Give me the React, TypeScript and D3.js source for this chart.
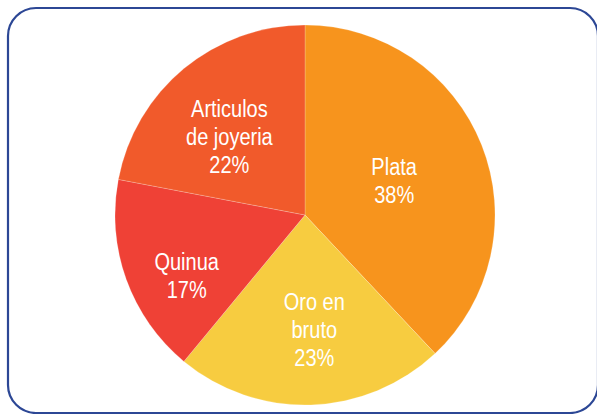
import React from "react";
import * as d3 from "d3";

const labels = [["Plata"], ["Oro en", "bruto"], ["Quinua"], ["Articulos", "de joyeria"]];
const values = [38, 23, 17, 22];
const colors = ["#F7941D", "#F7CC40", "#EF4136", "#F15A2B"];
// small nudges so labels sit where the original put them
const nudges = [
  [-8, 4],
  [6, 10],
  [-20, 25],
  [-9, 2],
];

const W = 597;
const H = 414;

export default function App() {
  const cx = 305;
  const cy = 215;
  const radius = 190;

  const pie = d3
    .pie<number>()
    .sort(null)
    .value((d) => d);
  const arcs = pie(values);

  const arc = d3.arc<d3.PieArcDatum<number>>().innerRadius(0).outerRadius(radius);
  const labelArc = d3
    .arc<d3.PieArcDatum<number>>()
    .innerRadius(radius * 0.55)
    .outerRadius(radius * 0.55);

  const lineH = 28;
  const capH = 17;

  return (
    <div style={{ position: "absolute", left: 0, top: 0 }}>
      <svg width={W} height={H} style={{ display: "block" }}>
        <rect x={0} y={0} width={W} height={H} fill="#fff" />
        <rect
          x={8}
          y={8}
          width={590}
          height={405}
          rx={28}
          ry={28}
          fill="none"
          stroke="#2c4795"
          strokeWidth={2.2}
        />
        <g transform={`translate(${cx},${cy})`}>
          {arcs.map((d, i) => (
            <path
              key={i}
              d={arc(d) || ""}
              fill={colors[i]}
              stroke="#fff"
              strokeOpacity={0.35}
              strokeWidth={0.6}
            />
          ))}
          {arcs.map((d, i) => {
            const [x, y] = labelArc.centroid(d);
            const lines = [...labels[i], `${values[i]}%`];
            const lx = x + nudges[i][0];
            const ly = y + nudges[i][1];
            const blockH = capH + (lines.length - 1) * lineH;
            const first = ly - blockH / 2 + capH;
            return (
              <g key={"t" + i} transform={`translate(${lx},0) scale(0.87,1)`}>
                {lines.map((t, j) => (
                  <text
                    key={j}
                    x={0}
                    y={first + j * lineH}
                    textAnchor="middle"
                    fill="#fff"
                    style={{
                      fontFamily: "'Liberation Sans', Arial, sans-serif",
                      fontSize: "23px",
                    }}
                  >
                    {t}
                  </text>
                ))}
              </g>
            );
          })}
        </g>
      </svg>
    </div>
  );
}
